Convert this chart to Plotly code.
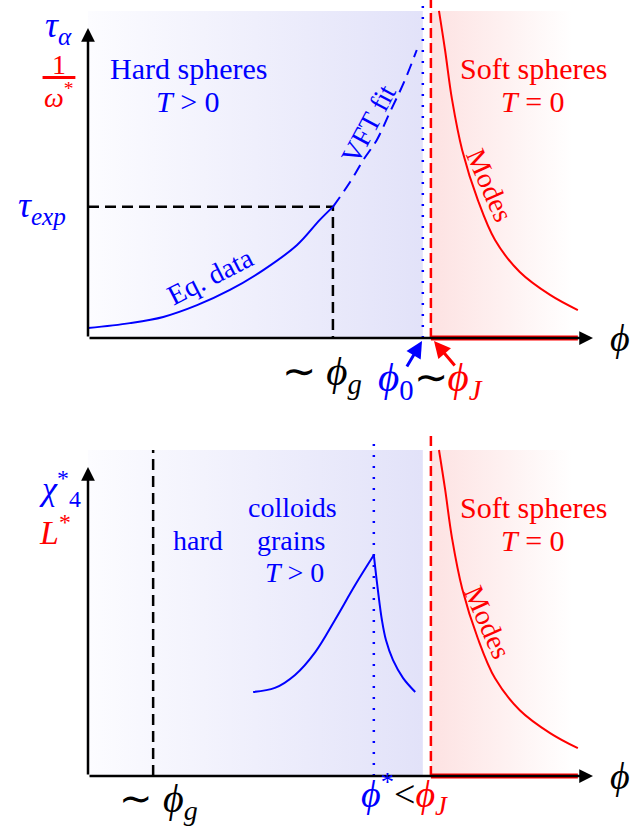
import plotly.graph_objects as go

# units: phi axis 0..1 (origin -> arrow tip), y axis 0..1 (origin -> arrow tip)
W, H = 634, 830
X0PX, XSC = 88, 505          # pixel of phi=0, pixels per unit
Y0TOP, YSCTOP = 338, 310     # top panel origin row, px per unit
Y0BOT, YSCBOT = 776, 309     # bottom panel origin row, px per unit

# top panel curves
eq_x = [0.0, 0.083, 0.149, 0.216, 0.281, 0.347, 0.414, 0.459, 0.485]
eq_y = [0.032, 0.048, 0.068, 0.106, 0.155, 0.219, 0.300, 0.381, 0.423]
vft_x = [0.485, 0.519, 0.545, 0.572, 0.598, 0.626, 0.651]
vft_y = [0.423, 0.503, 0.574, 0.639, 0.729, 0.826, 0.929]
modes_x = [0.695, 0.707, 0.721, 0.741, 0.772, 0.806, 0.855, 0.915, 0.970]
modes_y = [1.055, 0.929, 0.768, 0.606, 0.445, 0.316, 0.213, 0.139, 0.090]
phi_g_top, tau_exp = 0.485, 0.423
phi_0, phi_J = 0.663, 0.679
shade_top = 1.055
red_end = 0.97

# bottom panel curves (rise to the peak, then the fall)
chi_rise_x = [0.327, 0.370, 0.410, 0.450, 0.489, 0.529, 0.566]
chi_rise_y = [0.272, 0.285, 0.327, 0.401, 0.505, 0.618, 0.715]
chi_fall_x = [0.566, 0.574, 0.582, 0.590, 0.604, 0.624, 0.648]
chi_fall_y = [0.715, 0.602, 0.505, 0.440, 0.375, 0.317, 0.272]
phi_g_bot = 0.129
phi_star = 0.566

BLUE, RED = "#0000ff", "#ff0000"
FONT = "Liberation Serif"

fig = go.Figure()


def line(x, y, ya, color, width=2, dash=None, spline=False):
    fig.add_trace(go.Scatter(x=x, y=y, mode="lines", yaxis=ya,
                             line=dict(color=color, width=width, dash=dash,
                                       shape="spline" if spline else "linear"),
                             hoverinfo="skip", showlegend=False))


def add_panel(ya):
    # gradient shading
    fig.add_trace(go.Scatter(x=[0, phi_0, phi_0, 0, 0], y=[0, 0, shade_top, shade_top, 0],
                             fill="toself", mode="lines", line=dict(width=0), yaxis=ya,
                             fillgradient=dict(type="horizontal",
                                               colorscale=[[0, "#fcfcff"], [1, "#e2e2f9"]]),
                             hoverinfo="skip", showlegend=False))
    fig.add_trace(go.Scatter(x=[phi_J, 0.96, 0.96, phi_J, phi_J], y=[0, 0, shade_top, shade_top, 0],
                             fill="toself", mode="lines", line=dict(width=0), yaxis=ya,
                             fillgradient=dict(type="horizontal",
                                               colorscale=[[0, "#fde2e2"], [1, "#ffffff"]]),
                             hoverinfo="skip", showlegend=False))
    line([phi_J, phi_J], [0, 1.1], ya, RED, 2.5, "10px,5px")
    line(modes_x, modes_y, ya, RED, 2, spline=True)
    line([phi_J, red_end], [0, 0], ya, RED, 5)


add_panel("y")
add_panel("y2")

# top panel lines
line([phi_0, phi_0], [0, 1.1], "y", BLUE, 2.5, "2px,9px")
line([0, phi_g_top, phi_g_top], [tau_exp, tau_exp, 0], "y", "black", 2.5, "11px,6px")
line(eq_x, eq_y, "y", BLUE, 2, spline=True)
line(vft_x, vft_y, "y", BLUE, 2, "12px,7px", spline=True)
line([-0.09, -0.025], [0.84, 0.84], "y", RED, 3)

# bottom panel lines
line([phi_star, phi_star], [0, 1.1], "y2", BLUE, 2.5, "2px,9px")
line([phi_g_bot, phi_g_bot], [0, 1.055], "y2", "black", 2.5, "11px,6px")
line(chi_rise_x, chi_rise_y, "y2", BLUE, 2, spline=True)
line(chi_fall_x, chi_fall_y, "y2", BLUE, 2, spline=True)

ann = []


def arrow(x0, y0, x1, y1, yref, color="black", w=2.5):
    ann.append(dict(x=x1, y=y1, ax=x0, ay=y0, xref="x", yref=yref, axref="x", ayref=yref,
                    text="", showarrow=True, arrowhead=2, arrowsize=1.1, arrowwidth=w,
                    arrowcolor=color))


def label(x, y, text, yref, color="black", size=30, angle=0):
    ann.append(dict(x=x, y=y, xref="x", yref=yref, text=text, showarrow=False,
                    font=dict(family=FONT, size=size, color=color), textangle=angle,
                    xanchor="center", yanchor="middle"))


for yr in ("y", "y2"):
    arrow(0, 0, 0, 1.0, yr)
    arrow(0, 0, 1.0, 0, yr)
    label(1.054, 0, "<i>ϕ</i>", yr, size=38)


def py(px, top=True):
    return (Y0TOP - px) / YSCTOP if top else (Y0BOT - px) / YSCBOT


def px_x(px):
    return (px - X0PX) / XSC


# top labels
label(px_x(58), py(27), "<i>τ</i><sub><i>α</i></sub>", "y", BLUE, 36)
label(px_x(59), py(64), "1", "y", RED, 28)
label(px_x(59), py(95), "<i>ω</i><sup>*</sup>", "y", RED, 28)
label(px_x(42), py(207), "<i>τ</i><sub><i>exp</i></sub>", "y", BLUE, 36)
label(px_x(188), py(68), "Hard spheres", "y", BLUE, 30)
label(px_x(188), py(101), "<i>T</i> > 0", "y", BLUE, 30)
label(px_x(533), py(68), "Soft spheres", "y", RED, 30)
label(px_x(533), py(101), "<i>T</i> = 0", "y", RED, 30)
label(px_x(368), py(124), "VFT fit", "y", BLUE, 28, -62)
label(px_x(490), py(185), "Modes", "y", RED, 28, 66)
label(px_x(210), py(276), "Eq. data", "y", BLUE, 28, -27)
label(px_x(322), py(374), "∼ <i>ϕ</i><sub><i>g</i></sub>", "y", "black", 41)
label(px_x(430), py(380), "<span style='color:#0000ff'><i>ϕ</i><sub>0</sub></span>∼"
      "<span style='color:#ff0000'><i>ϕ</i><sub><i>J</i></sub></span>", "y", "black", 41)
arrow(px_x(406), py(368), px_x(422), py(341), "y", BLUE, 3)
arrow(px_x(456), py(367), px_x(434), py(341), "y", RED, 3)

# bottom labels
label(px_x(60), py(488, False), "<i>χ</i><sup>*</sup><sub>4</sub>", "y2", BLUE, 34)
label(px_x(55), py(530, False), "<i>L</i><sup>*</sup>", "y2", RED, 34)
label(px_x(198), py(540, False), "hard", "y2", BLUE, 28)
label(px_x(292), py(507, False), "colloids", "y2", BLUE, 28)
label(px_x(291), py(540, False), "grains", "y2", BLUE, 28)
label(px_x(294), py(572, False), "<i>T</i> > 0", "y2", BLUE, 28)
label(px_x(533), py(507, False), "Soft spheres", "y2", RED, 30)
label(px_x(533), py(540, False), "<i>T</i> = 0", "y2", RED, 30)
label(px_x(488), py(622, False), "Modes", "y2", RED, 28, 66)
label(px_x(158), py(801, False), "∼ <i>ϕ</i><sub><i>g</i></sub>", "y2", "black", 40)
label(px_x(404), py(794, False), "<span style='color:#0000ff'><i>ϕ</i><sup>*</sup></span>&lt;"
      "<span style='color:#ff0000'><i>ϕ</i><sub><i>J</i></sub></span>", "y2", "black", 38)

fig.update_layout(
    width=W, height=H, margin=dict(l=0, r=0, t=0, b=0),
    paper_bgcolor="white", plot_bgcolor="rgba(0,0,0,0)",
    xaxis=dict(range=[-X0PX / XSC, (W - X0PX) / XSC], visible=False, fixedrange=True),
    yaxis=dict(range=[(Y0TOP - H) / YSCTOP, Y0TOP / YSCTOP], visible=False, fixedrange=True),
    yaxis2=dict(range=[(Y0BOT - H) / YSCBOT, Y0BOT / YSCBOT], visible=False, fixedrange=True,
                overlaying="y"),
    annotations=ann,
    showlegend=False,
)

fig.write_html("out.html", config={"displayModeBar": False},
               post_script="document.body.style.margin='0';")
